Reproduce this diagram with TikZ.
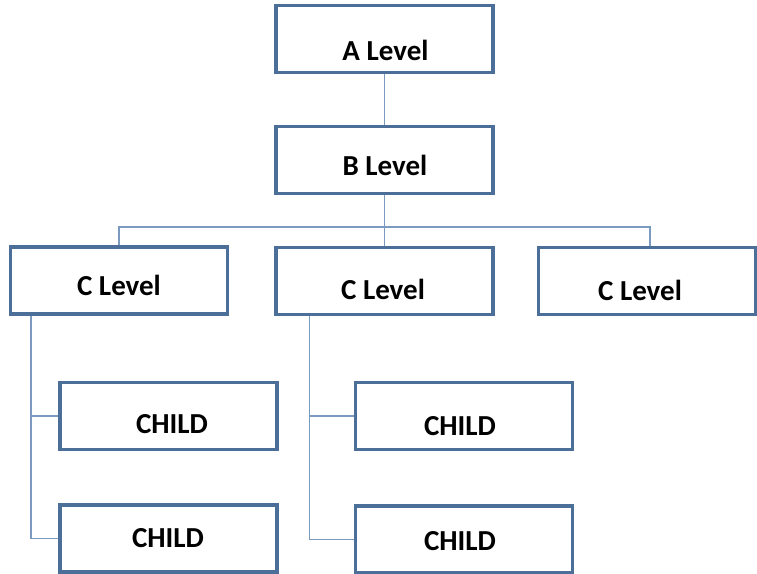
\documentclass[tikz,border=0pt]{standalone}
\usepackage{fontspec}
\setmainfont{Carlito}
\definecolor{boxblue}{HTML}{4B6F98}
\definecolor{linkblue}{HTML}{7A9AC0}
\begin{document}
\begin{tikzpicture}[x=1pt,y=-1pt,
  box/.style={draw=boxblue, line width=2.4pt, fill=white, inner sep=0pt,
              minimum width=216pt, minimum height=66pt},
  lbl/.style={anchor=base, font=\fontsize{29}{33}\selectfont\bfseries, text=black, inner sep=0pt},
  conn/.style={draw=linkblue, line width=1.5pt}]
\useasboundingbox (0,0) rectangle (757,573);
% boxes
\node[box] (A)  at (384.5,39)  {};
\node[box] (B)  at (384.5,160) {};
\node[box] (C1) at (119,280.5) {};
\node[box] (C2) at (384.5,281) {};
\node[box] (C3) at (647,281)   {};
\node[box] (L1) at (168.5,416) {};
\node[box] (L2) at (168.5,538.5) {};
\node[box] (M1) at (464,416)   {};
\node[box] (M2) at (464,539.5) {};
% connectors
\draw[conn] (A.south) -- (B.north);
\draw[conn] (B.south) -- ++(0,33) coordinate (hub);
\draw[conn] (C1.north) |- (hub) -| ([xshift=3pt]C3.north);
\draw[conn] (hub) -- (C2.north);
\draw[conn] ([xshift=21pt]C1.south west) |- (L1.west);
\draw[conn] ([xshift=21pt]C1.south west) |- (L2.west);
\draw[conn] ([xshift=34pt]C2.south west) |- (M1.west);
\draw[conn] ([xshift=34pt]C2.south west) |- (M2.west);
% redraw box outlines over connectors
\foreach \n in {A,B,C1,C2,C3,L1,L2,M1,M2}
  \draw[boxblue, line width=2.4pt] (\n.north west) rectangle (\n.south east);
% labels
\node[lbl] (tA)  at (385.5,60)  {A Level};
\node[lbl] (tB)  at (385,175)   {B Level};
\node[lbl] (tC1) at (119,295)   {C Level};
\node[lbl] (tC2) at (383,299)   {C Level};
\node[lbl] (tC3) at (640,300)   {C Level};
\node[lbl] (tL1) at (172,433)   {CHILD};
\node[lbl] (tL2) at (168,547)   {CHILD};
\node[lbl] (tM1) at (460,435)   {CHILD};
\node[lbl] (tM2) at (460,550)   {CHILD};
\end{tikzpicture}
\end{document}
